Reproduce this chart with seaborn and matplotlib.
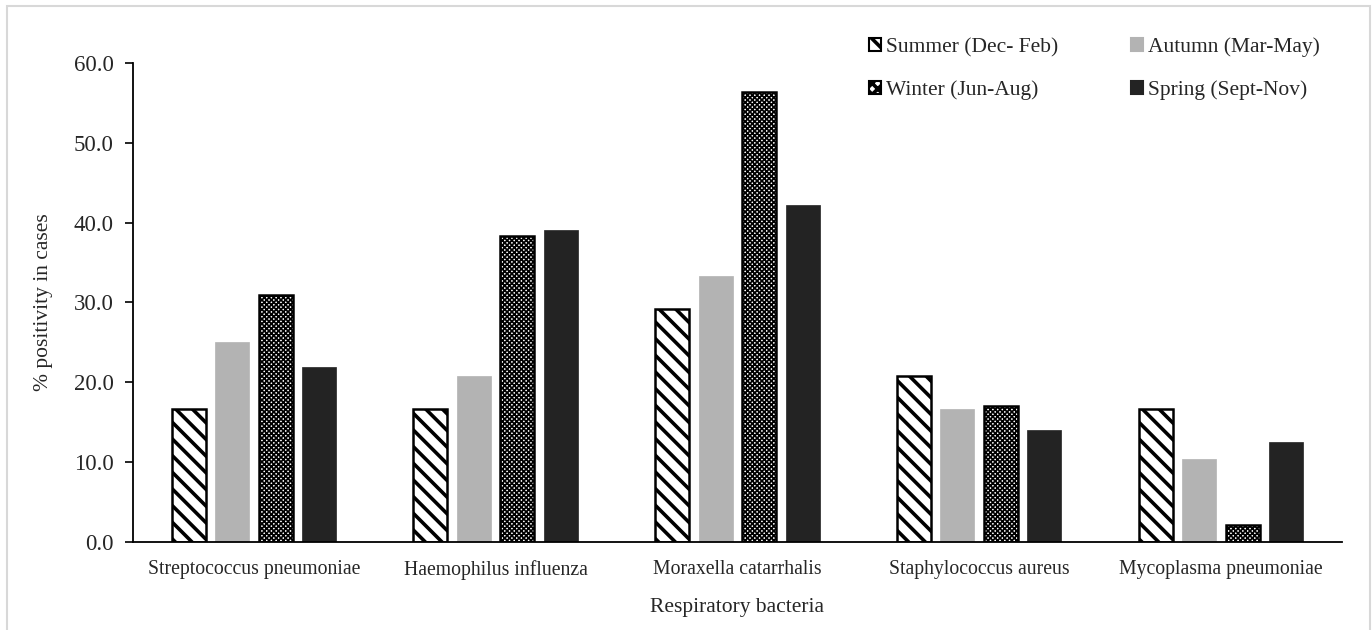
import matplotlib
matplotlib.use("Agg")
import matplotlib.pyplot as plt
import seaborn as sns
import pandas as pd
from matplotlib.patches import Patch, Rectangle

bacteria = ["Streptococcus pneumoniae", "Haemophilus influenza", "Moraxella catarrhalis",
            "Staphylococcus aureus", "Mycoplasma pneumoniae"]
seasons = ["Summer (Dec- Feb)", "Autumn (Mar-May)", "Winter (Jun-Aug)", "Spring (Sept-Nov)"]
summer = [16.7, 16.7, 29.2, 20.8, 16.7]
autumn = [25.0, 20.8, 33.3, 16.7, 10.4]
winter = [31.0, 38.3, 56.4, 17.0, 2.1]
spring = [21.9, 39.1, 42.2, 14.0, 12.5]
yticks = [0, 10, 20, 30, 40, 50, 60]

rows = []
for s, vals in zip(seasons, [summer, autumn, winter, spring]):
    for b, v in zip(bacteria, vals):
        rows.append({"bacteria": b, "season": s, "value": v})
df = pd.DataFrame(rows)

sns.set_style("white")
plt.rcParams['font.family'] = ['Liberation Serif', 'DejaVu Serif']
plt.rcParams['hatch.linewidth'] = 2.6

fig = plt.figure(figsize=(13.72, 6.30), dpi=100)
ax = fig.add_axes([0.097, 0.1397, 0.881, 0.7603])

styles = {
    seasons[0]: dict(face="white", edge="black", hatch="\\\\", hlw=2.6, lhatch="\\\\", lhlw=2.0),
    seasons[1]: dict(face="#b3b3b3", edge="#b3b3b3", hatch=None, hlw=None, lhatch=None, lhlw=None),
    seasons[2]: dict(face="white", edge="black", hatch="xxxxxxx", hlw=1.25, lhatch="xxx", lhlw=1.1),
    seasons[3]: dict(face="#232323", edge="#232323", hatch=None, hlw=None, lhatch=None, lhlw=None),
}
palette = {s: styles[s]["face"] for s in seasons}

sns.barplot(data=df, x="bacteria", y="value", hue="season", order=bacteria,
            hue_order=seasons, palette=palette, width=0.72, gap=0.22,
            ax=ax, legend=False, saturation=1)


def set_hlw(p, v):
    if hasattr(p, "set_hatch_linewidth"):
        p.set_hatch_linewidth(v)
    else:
        p._hatch_linewidth = v


def style_patch(p, st, lw):
    p.set_facecolor(st["face"])
    p.set_edgecolor(st["edge"])
    if st["hatch"]:
        p.set_hatch(st["hatch"])
        set_hlw(p, st["hlw"])
        p.set_linewidth(lw)
    else:
        p.set_linewidth(0.5)


for container, s in zip(ax.containers, seasons):
    for p in container:
        style_patch(p, styles[s], 1.8)

ax.set_ylim(0, 60)
ax.set_xlim(-0.5, 4.5)
ax.set_yticks(yticks)
ax.set_yticklabels([f"{t:.1f}" for t in yticks], fontsize=16.5)
ax.tick_params(axis="x", length=0, labelsize=14.2, pad=13)
ax.tick_params(axis="y", length=6, width=1.2, direction="out", color="black", pad=8, left=True)
for sp in ["top", "right"]:
    ax.spines[sp].set_visible(False)
for sp in ["left", "bottom"]:
    ax.spines[sp].set_color("black")
    ax.spines[sp].set_linewidth(1.3)
ax.set_xlabel("Respiratory bacteria", fontsize=15.5, labelpad=13)
ax.set_ylabel("% positivity in cases", fontsize=15.5, labelpad=15)

handles = []
for s in seasons:
    st = styles[s]
    h = Patch(facecolor=st["face"], edgecolor=st["edge"], hatch=st["lhatch"], linewidth=1.5)
    if st["lhatch"]:
        set_hlw(h, st["lhlw"])
    handles.append(h)
order = [0, 2, 1, 3]
fig.legend([handles[i] for i in order], [seasons[i] for i in order], ncol=2,
           loc="upper left", bbox_to_anchor=(0.6335, 0.9405), frameon=False,
           borderpad=0, borderaxespad=0,
           fontsize=15.5, handlelength=0.55, handleheight=0.55, handletextpad=0.25,
           columnspacing=3.35, labelspacing=1.09)

fig.patches.append(Rectangle((0.0051, -0.02), 0.9934, 1.0105, transform=fig.transFigure,
                             fill=False, edgecolor="#d8d8d8", linewidth=1.5))

fig.savefig("out.png", dpi=100)
